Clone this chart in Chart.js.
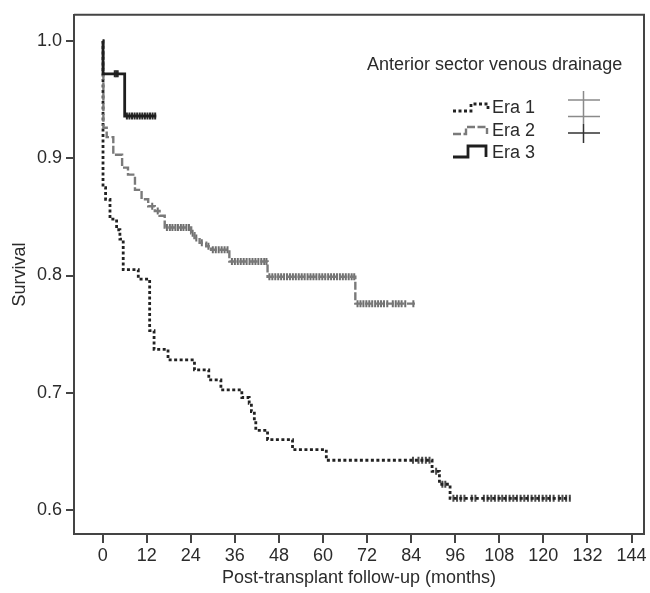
<!DOCTYPE html>
<html>
<head>
<meta charset="utf-8">
<script src="https://cdn.jsdelivr.net/npm/chart.js@4.4.1/dist/chart.umd.min.js"></script>
<style>
  html, body { margin: 0; padding: 0; background: #fff; }
  canvas { display: block; }
</style>
</head>
<body>
<canvas id="km" width="650" height="593"></canvas>
<script>
// Kaplan-Meier steps: time in months, survival after the event at that time
const era1Times = [0, 0.1, 0.8, 2.0, 3.8, 4.7, 5.6, 9.7, 12.8, 14.0, 17.8, 25.0, 28.9, 32.2, 37.9, 39.9, 40.5, 41.3, 41.7, 44.9, 51.7, 60.9, 89.7, 91.7, 94.6, 127.3];
const era1Surv  = [1.0, 0.875, 0.865, 0.848, 0.839, 0.831, 0.805, 0.797, 0.753, 0.737, 0.728, 0.7195, 0.711, 0.7025, 0.696, 0.691, 0.684, 0.676, 0.668, 0.660, 0.6515, 0.6425, 0.633, 0.622, 0.610, 0.610];

const era2Times = [0, 0.2, 1.1, 2.9, 5.3, 6.9, 8.8, 10.6, 12.4, 14.2, 15.5, 16.9, 24.1, 25.0, 26.4, 28.2, 29.5, 34.5, 44.9, 68.8, 85.1];
const era2Surv  = [1.0, 0.926, 0.918, 0.903, 0.892, 0.886, 0.873, 0.865, 0.859, 0.855, 0.851, 0.841, 0.836, 0.832, 0.828, 0.825, 0.822, 0.812, 0.799, 0.776, 0.776];

const era3Times = [0, 0.1, 6.0, 14.6];
const era3Surv  = [1.0, 0.972, 0.936, 0.936];

// censored observations (months)
const era1Censor = [84.5, 86, 87, 88, 89, 90.8, 92.5, 93.3, 95.5, 96.5, 97.5, 98.5, 100.5, 101.5, 103.8, 104.8, 105.8, 106.8, 107.8, 108.8, 109.8, 110.8, 111.8, 112.8, 113.8, 114.8, 115.8, 116.8, 117.8, 118.8, 119.8, 120.8, 121.8, 122.8, 124.2, 125.2, 126.2, 127.2];
const era2Censor = [13.5, 15, 17.5, 18.3, 19, 19.8, 20.5, 21.3, 22, 22.8, 23.5, 24.5, 25.5, 27, 28.8, 30, 30.8, 31.6, 32.4, 33.2, 34,
  35.2, 36, 36.8, 37.6, 38.4, 39.2, 40, 40.8, 41.6, 42.4, 43.2, 44, 44.6,
  45.4, 46.2, 47, 47.8, 48.6, 49.4, 50.2, 51, 51.8, 52.6, 53.4, 54.2, 55, 55.8, 56.6, 57.4, 58.2, 59, 59.8, 60.6, 61.4, 62.2, 63, 63.8, 64.6, 65.4, 66.2, 67, 67.8, 68.5,
  69.4, 70.2, 71, 71.8, 72.6, 73.4, 74.2, 75, 75.8, 76.6, 77.5, 79, 79.8, 80.6, 81.4, 82.4, 84.6];
const era3Censor = [3.3, 3.7, 4.1, 6.6, 7.3, 8.0, 8.7, 9.4, 10.1, 10.8, 11.5, 12.2, 12.9, 13.6, 14.3];

const xTicks = [0, 12, 24, 36, 48, 60, 72, 84, 96, 108, 120, 132, 144];
const yTicks = [0.6, 0.7, 0.8, 0.9, 1.0];
const eraLabels = ['Era 1', 'Era 2', 'Era 3'];
const legendTitle = 'Anterior sector venous drainage';

const FONT = '"Liberation Sans", Arial, Helvetica, sans-serif';

function toPoints(times, surv) {
  return times.map((t, i) => ({ x: t, y: surv[i] }));
}
function levelAt(times, surv, t) {
  let s = surv[0];
  for (let i = 0; i < times.length; i++) if (times[i] <= t) s = surv[i];
  return s;
}
function censorPoints(cens, times, surv) {
  return cens.map(t => ({ x: t, y: levelAt(times, surv, t) }));
}

const curveStyle = [
  { color: '#222', width: 2.8, dash: [3, 2.5] },
  { color: '#7a7a7a', width: 2.4, dash: [8, 2.5] },
  { color: '#1e1e1e', width: 2.8, dash: [] }
];
const censorColor = ['#4a4a4a', '#6e6e6e', '#2a2a2a'];

function stepSet(label, times, surv, st) {
  return {
    label: label, data: toPoints(times, surv), stepped: 'before',
    borderColor: st.color, borderWidth: st.width, borderDash: st.dash,
    pointRadius: 0, fill: false, tension: 0
  };
}
function censorSet(label, pts, color) {
  return {
    label: label, data: pts, showLine: false,
    pointStyle: 'line', rotation: 90, pointRadius: 3.5,
    pointBorderColor: color, pointBorderWidth: 2, pointBackgroundColor: color
  };
}

const datasets = [
  stepSet(eraLabels[2], era3Times, era3Surv, curveStyle[2]),
  censorSet('c3', censorPoints(era3Censor, era3Times, era3Surv), censorColor[2]),
  stepSet(eraLabels[1], era2Times, era2Surv, curveStyle[1]),
  censorSet('c2', censorPoints(era2Censor, era2Times, era2Surv), censorColor[1]),
  stepSet(eraLabels[0], era1Times, era1Surv, curveStyle[0]),
  censorSet('c1', censorPoints(era1Censor, era1Times, era1Surv), censorColor[0])
];

// box around the plot plus the hand-made legend
const framePlugin = {
  id: 'frame',
  afterDraw(chart) {
    const ctx = chart.ctx, a = chart.chartArea;
    ctx.save();
    ctx.strokeStyle = '#444';
    ctx.lineWidth = 2;
    ctx.beginPath();
    ctx.moveTo(a.left, a.top);
    ctx.lineTo(a.right, a.top);
    ctx.lineTo(a.right, a.bottom);
    ctx.stroke();

    ctx.fillStyle = '#2b2b2b';
    ctx.font = '18px ' + FONT;
    ctx.textBaseline = 'middle';
    ctx.textAlign = 'left';
    ctx.fillText(legendTitle, 367, 65);

    const rows = [108, 131, 153];
    const icons = [
      { lo: 111, hi: 104, x0: 453, x1: 471, x2: 488 },
      { lo: 134, hi: 127, x0: 453, x1: 466, x2: 487 },
      { lo: 157, hi: 146, x0: 453, x1: 468, x2: 486 }
    ];
    for (let i = 0; i < 3; i++) {
      const st = curveStyle[i], ic = icons[i];
      ctx.strokeStyle = st.color;
      ctx.lineWidth = st.width;
      ctx.setLineDash(st.dash);
      ctx.beginPath();
      ctx.moveTo(ic.x0, ic.lo);
      ctx.lineTo(ic.x1, ic.lo);
      ctx.lineTo(ic.x1, ic.hi);
      ctx.lineTo(ic.x2, ic.hi);
      ctx.lineTo(ic.x2, ic.lo);
      ctx.stroke();
      ctx.setLineDash([]);
      ctx.fillText(eraLabels[i], 492, rows[i]);
    }

    // censor symbols
    ctx.lineWidth = 1.5;
    ctx.strokeStyle = '#8a8a8a';
    ctx.beginPath();
    ctx.moveTo(583.5, 91); ctx.lineTo(583.5, 124);
    ctx.moveTo(568, 100); ctx.lineTo(600, 100);
    ctx.moveTo(568, 116.5); ctx.lineTo(600, 116.5);
    ctx.stroke();
    ctx.strokeStyle = '#333';
    ctx.beginPath();
    ctx.moveTo(583.5, 124); ctx.lineTo(583.5, 143);
    ctx.moveTo(568, 133); ctx.lineTo(600, 133);
    ctx.stroke();
    ctx.restore();
  }
};

new Chart(document.getElementById('km'), {
  type: 'line',
  data: { datasets: datasets },
  options: {
    responsive: false,
    animation: false,
    layout: { padding: { top: 12, right: 4, left: 0, bottom: 0 } },
    plugins: { legend: { display: false }, tooltip: { enabled: false } },
    scales: {
      x: {
        type: 'linear', min: -7.8, max: 147.4,
        afterFit(s) { s.height = 59; },
        afterBuildTicks(s) { s.ticks = xTicks.map(v => ({ value: v })); },
        grid: { drawOnChartArea: false, drawTicks: true, tickLength: 9, color: '#444', lineWidth: 2 },
        border: { display: true, color: '#444', width: 2 },
        ticks: { color: '#2b2b2b', padding: 2, maxRotation: 0, font: { family: FONT, size: 18 } },
        title: { display: true, text: 'Post-transplant follow-up (months)', color: '#2b2b2b',
                 padding: { top: 0, bottom: 4 }, font: { family: FONT, size: 18 } }
      },
      y: {
        type: 'linear', min: 0.5796, max: 1.0223,
        afterFit(s) { s.width = 74; },
        afterBuildTicks(s) { s.ticks = yTicks.map(v => ({ value: v })); },
        grid: { drawOnChartArea: false, drawTicks: true, tickLength: 8, color: '#444', lineWidth: 2 },
        border: { display: true, color: '#444', width: 2 },
        ticks: { color: '#2b2b2b', padding: 4, font: { family: FONT, size: 18 },
                 callback: v => v.toFixed(1) },
        title: { display: true, text: 'Survival', color: '#2b2b2b',
                 padding: { top: 9, bottom: 0 }, font: { family: FONT, size: 18 } }
      }
    }
  },
  plugins: [framePlugin]
});
</script>
</body>
</html>
